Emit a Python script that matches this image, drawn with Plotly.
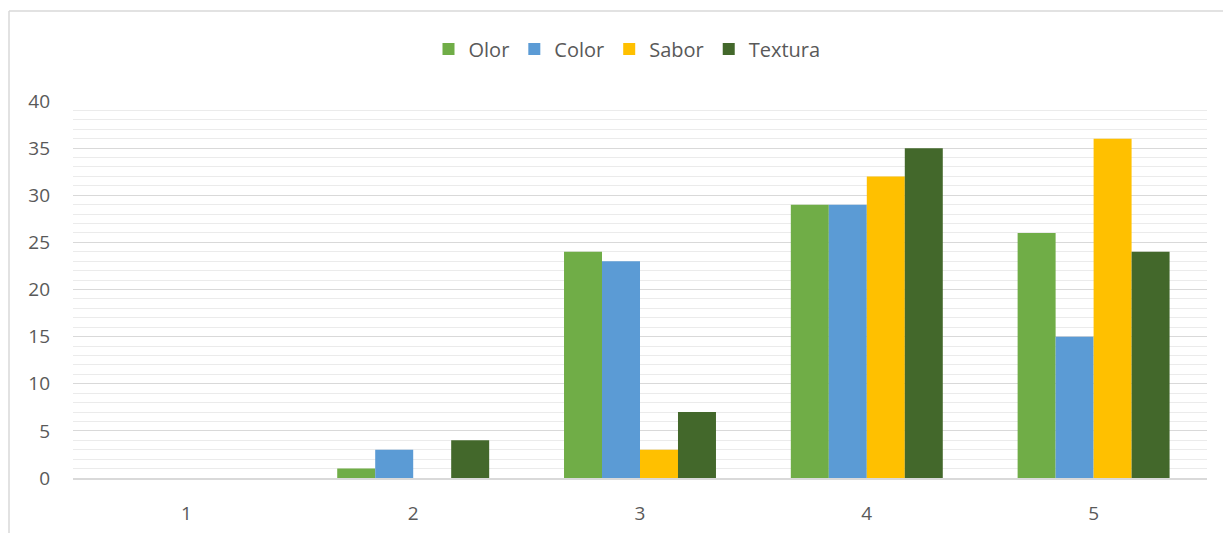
import plotly.graph_objects as go

# Puntuaciones (escala 1-5) por atributo sensorial
categorias = ["1", "2", "3", "4", "5"]
olor = [0, 1, 24, 29, 26]
color = [0, 3, 23, 29, 15]
sabor = [0, 0, 3, 32, 36]
textura = [0, 4, 7, 35, 24]

series = [
    ("Olor", olor, "#70AD47"),
    ("Color", color, "#5B9BD5"),
    ("Sabor", sabor, "#FFC000"),
    ("Textura", textura, "#43682B"),
]

fig = go.Figure()
for nombre, valores, col in series:
    fig.add_trace(go.Bar(
        x=categorias, y=valores, name=nombre,
        marker=dict(color=col, line=dict(width=0)),
    ))

W, H = 1223, 533
L, R, T, B = 73, 16, 101, 55
pw, ph = W - L - R, H - T - B

def px_x(p):
    return (p - L) / pw

def px_y(p):
    return (H - B - p) / ph

txt = "#595959"
fig.update_layout(
    width=W, height=H,
    margin=dict(l=L, r=R, t=T, b=B, pad=0, autoexpand=False),
    paper_bgcolor="white", plot_bgcolor="white",
    font=dict(family="Open Sans, Lato, sans-serif", size=19, color=txt),
    barmode="group", bargap=0.33, bargroupgap=0,
    showlegend=True,
    legend=dict(
        orientation="h", x=px_x(627), xanchor="center",
        y=px_y(49), yanchor="middle",
        font=dict(size=20, color=txt),
        itemwidth=30, tracegroupgap=0,
    ),
    xaxis=dict(
        automargin=False,
        showgrid=False, showline=True, linecolor="#d9d9d9", linewidth=1.5,
        ticks="", tickfont=dict(size=19, color=txt), ticklabelstandoff=17,
    ),
    yaxis=dict(
        automargin=False,
        range=[0, 40], dtick=5, tick0=0,
        showgrid=True, gridcolor="#d9d9d9", gridwidth=1.3,
        zeroline=False, showline=False, ticks="",
        tickfont=dict(size=19, color=txt), ticklabelstandoff=22,
        minor=dict(dtick=1, showgrid=True, gridcolor="#ebebeb", gridwidth=1.4),
    ),
    shapes=[
        # marco del área del gráfico
        dict(type="line", xref="paper", yref="paper",
             x0=px_x(9), x1=px_x(1240), y0=px_y(11), y1=px_y(11),
             line=dict(color="#d9d9d9", width=1.5)),
        dict(type="line", xref="paper", yref="paper",
             x0=px_x(9), x1=px_x(9), y0=px_y(11), y1=px_y(560),
             line=dict(color="#d9d9d9", width=1.5)),
    ],
)

fig.write_html("out.html")
